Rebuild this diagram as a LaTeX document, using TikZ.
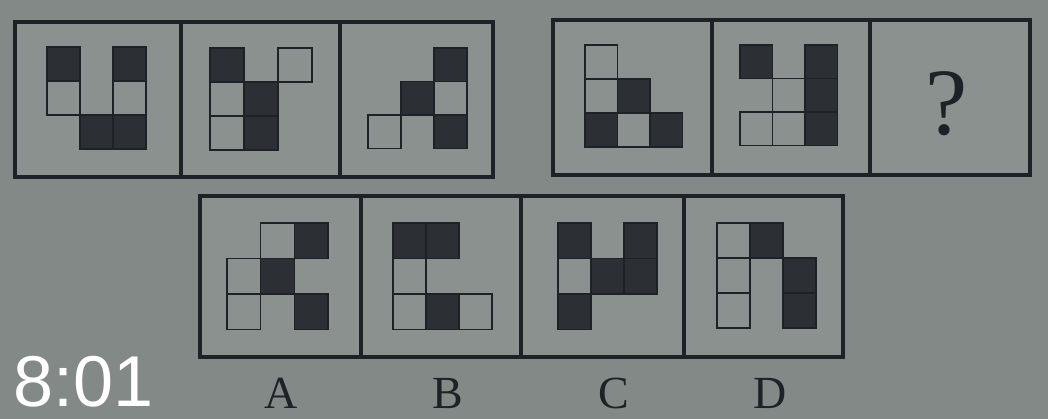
\documentclass[tikz,border=0pt]{standalone}
\usepackage{fontspec}
\setmainfont{Liberation Serif}
\newfontfamily\clockfont{Liberation Sans}
\usepackage{tikz}

\definecolor{photobg}{HTML}{838986}
\definecolor{panelbg}{HTML}{8B918F}
\definecolor{inkline}{HTML}{1E2227}
\definecolor{inkcell}{HTML}{2C3034}

\begin{document}
\begin{tikzpicture}[x=1pt,y=-1pt,
  frame/.style={draw=inkline,line width=3.5pt,fill=panelbg},
  bcell/.style={fill=inkcell,draw=inkline,line width=1.5pt},
  wcell/.style={draw=inkline,line width=1.5pt},
  letter/.style={font=\fontsize{46}{46}\selectfont,text=inkline,inner sep=0pt,anchor=base}]

\fill[photobg] (0,0) rectangle (1048,419);
\useasboundingbox (0,0) rectangle (1048,419);

% top left row of panels
\draw[frame] (15,22) rectangle (493,177);
\draw[inkline,line width=3.5pt] (181,22) -- (181,177);
\draw[inkline,line width=3.5pt] (340,22) -- (340,177);

% top right row of panels
\draw[frame] (553,20) rectangle (1030,175);
\draw[inkline,line width=3.5pt] (712,20) -- (712,175);
\draw[inkline,line width=3.5pt] (870,20) -- (870,175);

% answer panels
\draw[frame] (200,196) rectangle (843,357);
\draw[inkline,line width=3.5pt] (361,196) -- (361,357);
\draw[inkline,line width=3.5pt] (521,196) -- (521,357);
\draw[inkline,line width=3.5pt] (684,196) -- (684,357);

% panel 1
\begin{scope}[shift={(47pt,-47pt)},x=33pt,y=-34pt]
\draw[wcell] (0,1) rectangle ++(1,1);
\draw[wcell] (2,1) rectangle ++(1,1);
\draw[bcell] (0,0) rectangle ++(1,1);
\draw[bcell] (2,0) rectangle ++(1,1);
\draw[bcell] (1,2) rectangle ++(1,1);
\draw[bcell] (2,2) rectangle ++(1,1);
\end{scope}

% panel 2
\begin{scope}[shift={(210pt,-48pt)},x=34pt,y=-34pt]
\draw[wcell] (2,0) rectangle ++(1,1);
\draw[wcell] (0,1) rectangle ++(1,1);
\draw[wcell] (0,2) rectangle ++(1,1);
\draw[bcell] (0,0) rectangle ++(1,1);
\draw[bcell] (1,1) rectangle ++(1,1);
\draw[bcell] (1,2) rectangle ++(1,1);
\end{scope}

% panel 3
\begin{scope}[shift={(368pt,-48pt)},x=33pt,y=-33.5pt]
\draw[wcell] (2,1) rectangle ++(1,1);
\draw[wcell] (0,2) rectangle ++(1,1);
\draw[bcell] (2,0) rectangle ++(1,1);
\draw[bcell] (1,1) rectangle ++(1,1);
\draw[bcell] (2,2) rectangle ++(1,1);
\end{scope}

% panel 4
\begin{scope}[shift={(585pt,-45pt)},x=32.5pt,y=-34pt]
\draw[wcell] (0,0) rectangle ++(1,1);
\draw[wcell] (0,1) rectangle ++(1,1);
\draw[wcell] (1,2) rectangle ++(1,1);
\draw[bcell] (1,1) rectangle ++(1,1);
\draw[bcell] (0,2) rectangle ++(1,1);
\draw[bcell] (2,2) rectangle ++(1,1);
\end{scope}

% panel 5
\begin{scope}[shift={(740pt,-45pt)},x=32.5pt,y=-33.5pt]
\draw[wcell] (1,1) rectangle ++(1,1);
\draw[wcell] (0,2) rectangle ++(1,1);
\draw[wcell] (1,2) rectangle ++(1,1);
\draw[bcell] (0,0) rectangle ++(1,1);
\draw[bcell] (2,0) rectangle ++(1,1);
\draw[bcell] (2,1) rectangle ++(1,1);
\draw[bcell] (2,2) rectangle ++(1,1);
\end{scope}

% panel 6
\node[font=\fontsize{95}{95}\selectfont,text=inkline,inner sep=0pt,anchor=base] (ask) at (947,135) {?};

% option A
\begin{scope}[shift={(227pt,-223pt)},x=33.7pt,y=-35.5pt]
\draw[wcell] (1,0) rectangle ++(1,1);
\draw[wcell] (0,1) rectangle ++(1,1);
\draw[wcell] (0,2) rectangle ++(1,1);
\draw[bcell] (2,0) rectangle ++(1,1);
\draw[bcell] (1,1) rectangle ++(1,1);
\draw[bcell] (2,2) rectangle ++(1,1);
\end{scope}

% option B
\begin{scope}[shift={(393pt,-223pt)},x=33pt,y=-35.5pt]
\draw[wcell] (0,1) rectangle ++(1,1);
\draw[wcell] (0,2) rectangle ++(1,1);
\draw[wcell] (2,2) rectangle ++(1,1);
\draw[bcell] (0,0) rectangle ++(1,1);
\draw[bcell] (1,0) rectangle ++(1,1);
\draw[bcell] (1,2) rectangle ++(1,1);
\end{scope}

% option C
\begin{scope}[shift={(558pt,-223pt)},x=33pt,y=-35.5pt]
\draw[wcell] (0,1) rectangle ++(1,1);
\draw[bcell] (0,0) rectangle ++(1,1);
\draw[bcell] (2,0) rectangle ++(1,1);
\draw[bcell] (1,1) rectangle ++(1,1);
\draw[bcell] (2,1) rectangle ++(1,1);
\draw[bcell] (0,2) rectangle ++(1,1);
\end{scope}

% option D
\begin{scope}[shift={(717pt,-223pt)},x=33pt,y=-35pt]
\draw[wcell] (0,0) rectangle ++(1,1);
\draw[wcell] (0,1) rectangle ++(1,1);
\draw[wcell] (0,2) rectangle ++(1,1);
\draw[bcell] (1,0) rectangle ++(1,1);
\draw[bcell] (2,1) rectangle ++(1,1);
\draw[bcell] (2,2) rectangle ++(1,1);
\end{scope}

% labels
\node[letter] (la) at (281,408) {A};
\node[letter] (lb) at (448,408) {B};
\node[letter] (lc) at (614,408) {C};
\node[letter] (ld) at (770,408) {D};

% timestamp
\node[font=\clockfont\fontsize{72}{72}\selectfont,text=white,inner sep=0pt,anchor=base west] (clock) at (13,406) {8:01};

\end{tikzpicture}
\end{document}
